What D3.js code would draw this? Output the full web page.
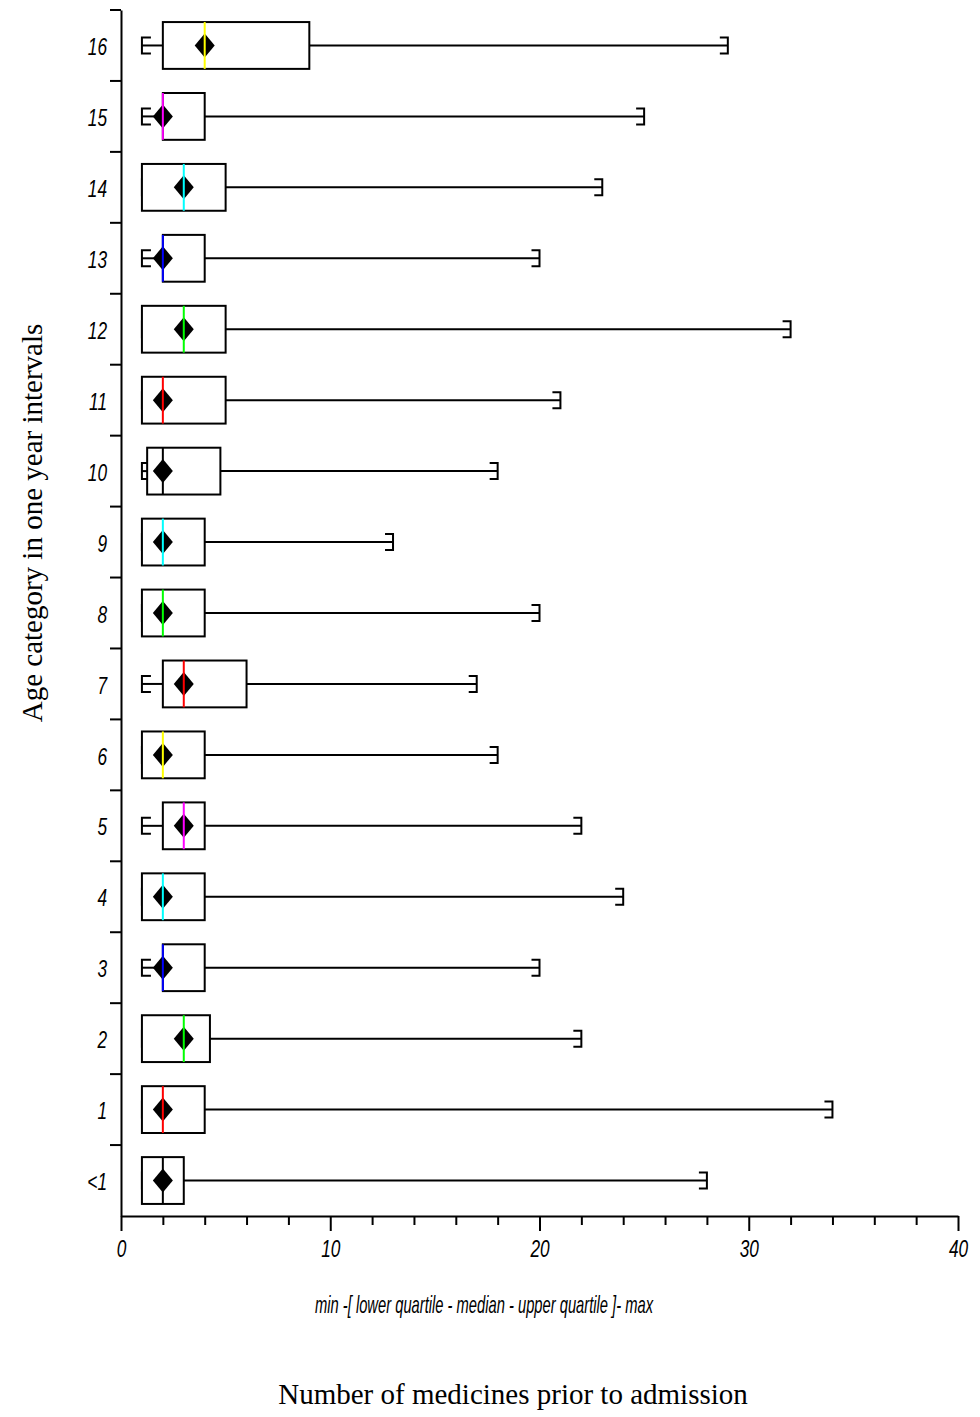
<!DOCTYPE html>
<html>
<head>
<meta charset="utf-8">
<title>Medicines prior to admission by age</title>
<script src="https://cdn.jsdelivr.net/npm/d3@7"></script>
<style>
  body { margin: 0; background: #fff; }
  .tick-lbl { font-family: "Liberation Sans", Arial, sans-serif; font-style: italic; font-size: 24px; fill: #000; }
  .title { font-family: "Liberation Serif", "Times New Roman", serif; font-size: 29px; fill: #000; }
</style>
</head>
<body>
<svg id="svg" width="980" height="1417"></svg>
<script>
// age categories, bottom to top
var categories = ["<1", "1", "2", "3", "4", "5", "6", "7", "8", "9", "10", "11", "12", "13", "14", "15", "16"];
var mins    = [1, 1, 1, 1, 1, 1, 1, 1, 1, 1, 1, 1, 1, 1, 1, 1, 1];
var q1s     = [1, 1, 1, 2, 1, 2, 1, 2, 1, 1, 1.25, 1, 1, 2, 1, 2, 2];
var medians = [2, 2, 3, 2, 2, 3, 2, 3, 2, 2, 2, 2, 3, 2, 3, 2, 4];
var q3s     = [3, 4, 4.25, 4, 4, 4, 4, 6, 4, 4, 4.75, 5, 5, 4, 5, 4, 9];
var maxs    = [28, 34, 22, 20, 24, 22, 18, 17, 20, 13, 18, 21, 32, 20, 23, 25, 29];
var medianColors = ["#000", "#ff0000", "#00ff00", "#0000ff", "#00ffff", "#ff00ff", "#ffff00",
                    "#ff0000", "#00ff00", "#00ffff", "#000", "#ff0000", "#00ff00", "#0000ff",
                    "#00ffff", "#ff00ff", "#ffff00"];
var xTicks = d3.range(0, 41, 2);

var svg = d3.select('#svg');

var x = d3.scaleLinear().domain([0, 40]).range([121, 958]);
var pad = 0.34;
var y = d3.scaleBand().domain(categories).range([1216, 10])
    .paddingInner(pad).paddingOuter(pad / 2);

var rows = categories.map(function(c, i){
    return {cat: c, min: mins[i], q1: q1s[i], med: medians[i], q3: q3s[i], max: maxs[i], color: medianColors[i]};
});

// x axis
var xAxis = svg.append('g')
    .attr('transform', 'translate(0,1216)')
    .call(d3.axisBottom(x).tickValues(xTicks).tickSizeOuter(0)
        .tickFormat(function(d){ return d % 10 === 0 ? d : ''; }));
xAxis.select('.domain').attr('stroke-width', 2);
xAxis.selectAll('.tick line')
    .attr('stroke-width', 2)
    .attr('y2', function(d){ return d % 10 === 0 ? 15 : 9; });
xAxis.selectAll('.tick text')
    .attr('class', 'tick-lbl')
    .attr('font-size', null).attr('font-family', null)
    .attr('y', 0).attr('dy', null)
    .attr('transform', 'translate(0,41) scale(0.72,1)');

// y axis
var yAxis = svg.append('g')
    .attr('transform', 'translate(121,0)')
    .call(d3.axisLeft(y).tickSize(0).tickSizeOuter(0));
yAxis.select('.domain').attr('stroke-width', 2);
yAxis.selectAll('.tick text')
    .attr('class', 'tick-lbl')
    .attr('font-size', null).attr('font-family', null)
    .attr('x', 0).attr('dy', '0.36em')
    .attr('transform', 'translate(-14,1) scale(0.72,1)');

// separator ticks at the top of each category
var gap = (y.step() - y.bandwidth()) / 2;
svg.append('g').selectAll('line').data(categories).enter().append('line')
    .attr('x1', 110).attr('x2', 121)
    .attr('y1', function(d){ return y(d) - gap; })
    .attr('y2', function(d){ return y(d) - gap; })
    .attr('stroke', '#000').attr('stroke-width', 2);

// boxes
var g = svg.append('g').selectAll('g.row').data(rows).enter().append('g').attr('class', 'row');
var bw = y.bandwidth();
function cy(d){ return y(d.cat) + bw / 2; }

g.append('line') // lower whisker
    .attr('x1', function(d){ return x(d.min); }).attr('x2', function(d){ return x(d.q1); })
    .attr('y1', cy).attr('y2', cy)
    .attr('stroke', '#000').attr('stroke-width', 2);
g.append('path') // lower cap "["
    .attr('d', function(d){
        var x0 = x(d.min), c = cy(d);
        return 'M' + (x0 + 9) + ',' + (c - 8) + 'H' + x0 + 'V' + (c + 8) + 'H' + (x0 + 9);
    })
    .attr('fill', 'none').attr('stroke', '#000').attr('stroke-width', 2);
g.append('line') // upper whisker
    .attr('x1', function(d){ return x(d.q3); }).attr('x2', function(d){ return x(d.max); })
    .attr('y1', cy).attr('y2', cy)
    .attr('stroke', '#000').attr('stroke-width', 2);
g.append('path') // upper cap "]"
    .attr('d', function(d){
        var x0 = x(d.max), c = cy(d);
        return 'M' + (x0 - 8) + ',' + (c - 8) + 'H' + x0 + 'V' + (c + 8) + 'H' + (x0 - 8);
    })
    .attr('fill', 'none').attr('stroke', '#000').attr('stroke-width', 2);
g.append('rect')
    .attr('x', function(d){ return x(d.q1); })
    .attr('width', function(d){ return x(d.q3) - x(d.q1); })
    .attr('y', function(d){ return y(d.cat); })
    .attr('height', bw)
    .attr('fill', '#fff').attr('stroke', '#000').attr('stroke-width', 2);
g.append('path') // diamond
    .attr('d', function(d){
        var m = x(d.med), c = cy(d);
        return 'M' + m + ',' + (c - 12) + 'L' + (m + 10) + ',' + c + 'L' + m + ',' + (c + 12) + 'L' + (m - 10) + ',' + c + 'Z';
    })
    .attr('fill', '#000');
g.append('line') // median
    .attr('x1', function(d){ return x(d.med); }).attr('x2', function(d){ return x(d.med); })
    .attr('y1', function(d){ return y(d.cat); })
    .attr('y2', function(d){ return y(d.cat) + bw; })
    .attr('stroke', function(d){ return d.color; }).attr('stroke-width', 2);

// texts
svg.append('text')
    .attr('class', 'tick-lbl')
    .attr('x', 315).attr('y', 1313)
    .attr('textLength', 338).attr('lengthAdjust', 'spacingAndGlyphs')
    .text('min -[ lower quartile - median - upper quartile ]- max');

svg.append('text')
    .attr('class', 'title')
    .attr('text-anchor', 'middle')
    .attr('x', 513).attr('y', 1404)
    .text('Number of medicines prior to admission');

svg.append('text')
    .attr('class', 'title')
    .attr('text-anchor', 'middle')
    .attr('transform', 'translate(42,523) rotate(-90)')
    .text('Age category in one year intervals');
</script>
</body>
</html>
